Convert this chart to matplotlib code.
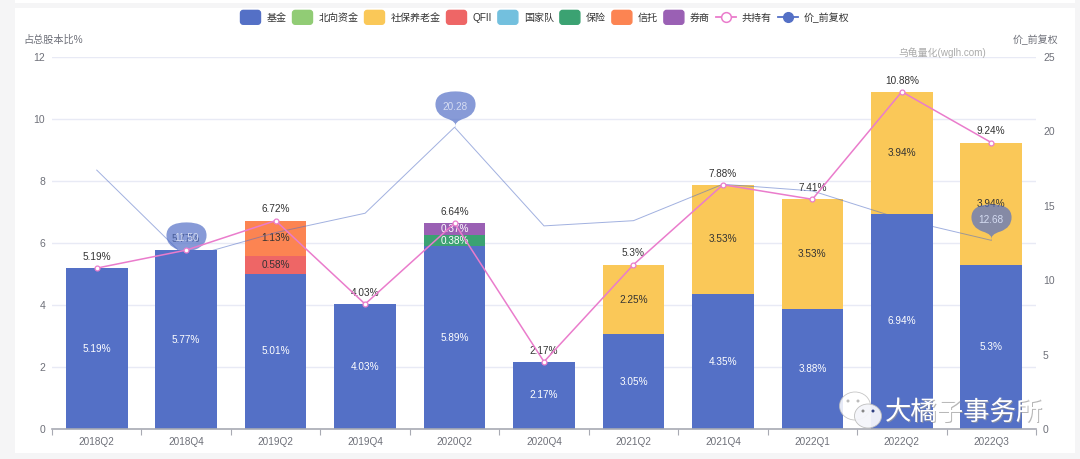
import numpy as np
import matplotlib
matplotlib.use("Agg")
import matplotlib.pyplot as plt
from matplotlib.patches import FancyBboxPatch, Rectangle, Ellipse
from matplotlib.path import Path
from matplotlib.legend_handler import HandlerPatch
from matplotlib.lines import Line2D

plt.rcParams['font.family'] = ['Liberation Sans', 'Noto Sans CJK SC', 'DejaVu Sans']

quarters = ['2018Q2', '2018Q4', '2019Q2', '2019Q4', '2020Q2', '2020Q4',
            '2021Q2', '2021Q4', '2022Q1', '2022Q2', '2022Q3']

# holdings, % of total shares
jijin = [5.19, 5.77, 5.01, 4.03, 5.89, 2.17, 3.05, 4.35, 3.88, 6.94, 5.3]
shebao = [0, 0, 0, 0, 0, 0, 2.25, 3.53, 3.53, 3.94, 3.94]
qfii = [0, 0, 0.58, 0, 0, 0, 0, 0, 0, 0, 0]
baoxian = [0, 0, 0, 0, 0.38, 0, 0, 0, 0, 0, 0]
xintuo = [0, 0, 1.13, 0, 0, 0, 0, 0, 0, 0, 0]
quanshang = [0, 0, 0, 0, 0.37, 0, 0, 0, 0, 0, 0]
total = [5.19, 5.77, 6.72, 4.03, 6.64, 2.17, 5.3, 7.88, 7.41, 10.88, 9.24]
total_labels = ['5.19%', '5.77%', '6.72%', '4.03%', '6.64%', '2.17%', '5.3%',
                '7.88%', '7.41%', '10.88%', '9.24%']
price = [17.4, 11.50, 13.2, 14.5, 20.28, 13.65, 14.0, 16.45, 16.0, 14.1, 12.68]
price_pins = [1, 4, 10]

BLUE = '#5470c6'
GREEN = '#91cc75'
YELLOW = '#fac858'
RED = '#ee6666'
CYAN = '#73c0de'
DGREEN = '#3ba272'
ORANGE = '#fc8452'
PURPLE = '#9a60b4'
PINK = '#ea7ccc'
TXT = '#6e7079'

stack = [(jijin, BLUE, 'white'), (shebao, YELLOW, '#333333'), (qfii, RED, '#333333'),
         (baoxian, DGREEN, 'white'), (xintuo, ORANGE, '#333333'), (quanshang, PURPLE, 'white')]

fig = plt.figure(figsize=(10.8, 4.59), dpi=100, facecolor='#f5f5f6')
# white panel behind the chart, plus the strip at the very top
fig.patches.append(Rectangle((15/1080, 6/459), 1060/1080, 445/459, transform=fig.transFigure,
                             facecolor='white', edgecolor='none', zorder=-5))
fig.patches.append(Rectangle((15/1080, 456/459), 1060/1080, 3/459, transform=fig.transFigure,
                             facecolor='white', edgecolor='none', zorder=-5))

ax = fig.add_axes([52/1080, 30/459, 984/1080, 372/459])
ax.patch.set_visible(False)
x = np.arange(len(quarters))

bottom = np.zeros(len(quarters))
for vals, col, lab_col in stack:
    vals = np.array(vals, dtype=float)
    ax.bar(x, vals, 0.69, bottom=bottom, color=col, zorder=3)
    for i, v in enumerate(vals):
        if v > 0:
            ax.text(i, bottom[i] + v / 2, f'{v:g}%', ha='center', va='center',
                    color=lab_col, fontsize=7.2, zorder=4)
    bottom += vals

for i, lab in enumerate(total_labels):
    ax.text(i, total[i] + 0.2, lab, ha='center', va='bottom', color='#333333', fontsize=7.2, zorder=4)

ax.set_xlim(-0.5, len(quarters) - 0.5)
ax.set_ylim(0, 12)
ax.set_yticks(range(0, 13, 2))
ax.yaxis.grid(True, color='#e8eaf5', lw=1)
ax.set_axisbelow(True)
ax.set_xticks(x)
ax.set_xticklabels(quarters)
ax.set_xticks(np.arange(-0.5, len(quarters)), minor=True)
ax.tick_params(axis='x', which='major', length=0, labelsize=7.2, labelcolor=TXT, pad=6)
ax.tick_params(axis='x', which='minor', length=4, color='#a8aab3', width=0.8)
ax.tick_params(axis='y', length=0, labelsize=7.5, labelcolor=TXT, pad=5)
for s in ['top', 'left', 'right']:
    ax.spines[s].set_visible(False)
ax.spines['bottom'].set_color('#a8aab3')
ax.spines['bottom'].set_linewidth(1.2)
ax.spines['bottom'].set_zorder(5)

# price axis
ax2 = ax.twinx()
ax2.patch.set_visible(False)
ax2.set_ylim(0, 25)
ax2.set_yticks(range(0, 26, 5))
ax2.tick_params(axis='y', length=0, labelsize=7.5, labelcolor=TXT, pad=5)
for s in ax2.spines.values():
    s.set_visible(False)
ax2.plot(x, price, color=BLUE, lw=0.7, alpha=0.55, zorder=5)

# pin marker: round head, point at the data value
pin = Path([(0, 0), (0.08, 0.3), (-0.45, 0.45), (-1, 0.65), (-1, 1.15), (-1, 1.8), (0, 1.8),
            (1, 1.8), (1, 1.15), (1, 0.65), (0.45, 0.45), (-0.08, 0.3), (0, 0)],
           [Path.MOVETO] + [Path.CURVE3] * 12)
for i in price_pins:
    ax2.plot([i], [price[i]], marker=pin, ms=52, mfc=BLUE, mec='none', alpha=0.7, ls='none', zorder=6)
    ax2.annotate(f'{price[i]:.2f}', (i, price[i]), xytext=(0, 14.5), textcoords='offset points',
                 ha='center', va='center', color='#d5dcf2', fontsize=7.2, zorder=7)

# total line on top of everything
ax3 = ax.twinx()
ax3.patch.set_visible(False)
ax3.set_ylim(0, 12)
ax3.axis('off')
ax3.plot(x, total, color=PINK, lw=1.1, marker='o', ms=3.5, mfc='white', mec=PINK, mew=0.9, zorder=8)

# axis names and watermark
fig.text(23/1080, 1 - 40/459, '占总股本比%', color=TXT, fontsize=7.3, va='center')
fig.text(1013/1080, 1 - 40/459, '价_前复权', color=TXT, fontsize=7.2, va='center')
fig.text(898/1080, 1 - 53/459, '乌龟量化(wglh.com)', color='#aaaaaa', fontsize=7.1, va='center')


def rounded_handle(legend, orig_handle, xdescent, ydescent, width, height, fontsize):
    # same centre height as the line handles
    mid = (height - ydescent) / 2
    return FancyBboxPatch((-xdescent, mid - 5), width, 10,
                          boxstyle='round,pad=0,rounding_size=2')


names = ['基金', '北向资金', '社保养老金', 'QFII', '国家队', '保险', '信托', '券商']
cols = [BLUE, GREEN, YELLOW, RED, CYAN, DGREEN, ORANGE, PURPLE]
handles = [Rectangle((0, 0), 1, 1, color=c, label=n) for c, n in zip(cols, names)]
handles.append(Line2D([], [], color=PINK, lw=1.3, marker='o', ms=7, mfc='white', mew=1.1, label='共持有'))
handles.append(Line2D([], [], color=BLUE, lw=1.3, marker='o', ms=7, label='价_前复权'))
leg = fig.legend(handles=handles, ncols=10, loc='center', bbox_to_anchor=(545/1080, 1 - 18/459),
                 frameon=False, fontsize=7.2, labelcolor='#333333', handlelength=2.0, handleheight=1.0,
                 handletextpad=0.6, columnspacing=0.6, borderpad=0,
                 handler_map={Rectangle: HandlerPatch(patch_func=rounded_handle)})

# wechat style badge bottom right
bubbles = [(855, 406, 31, 28, 'white', 0.85), (868, 416, 27, 24, '#f4f5fa', 0.95),
           (848, 401, 3, 3, '#bbbbbb', 1), (858, 401, 3, 3, '#bbbbbb', 1),
           (863, 411, 3, 3, '#888888', 1), (873, 411, 3, 3, '#2f3f80', 1)]
for cx, cy, w, h, fc, al in bubbles:
    fig.patches.append(Ellipse((cx/1080, 1 - cy/459), w/1080, h/459, transform=fig.transFigure,
                               facecolor=fc, edgecolor='#bbbbbb' if w > 5 else 'none', lw=0.6,
                               zorder=20, alpha=al))
wm2 = fig.text(886/1080, 1 - 413/459, '大橘子事务所', color='#999999', fontsize=19, va='center', zorder=20, alpha=0.7)
wm = fig.text(885/1080, 1 - 412/459, '大橘子事务所', color='white', fontsize=19, va='center', zorder=21)

fig.savefig('out.png', dpi=100, facecolor=fig.get_facecolor())
